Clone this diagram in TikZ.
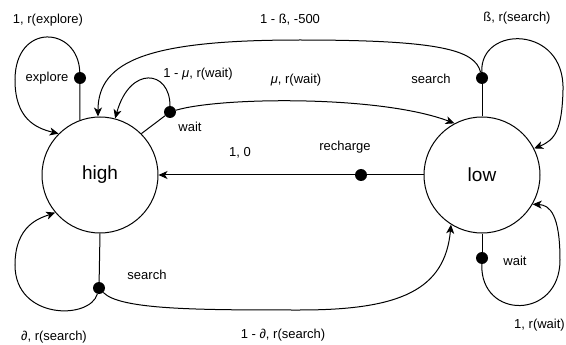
\documentclass[tikz,border=0pt]{standalone}
\usepackage{fontspec}
\setmainfont{Liberation Sans}
\usetikzlibrary{arrows.meta}
\begin{document}
\begin{tikzpicture}[x=1pt,y=-1pt,
  state/.style={circle,draw,line width=1pt,minimum size=116pt,inner sep=0pt,font=\fontsize{19}{21}\selectfont},
  dot/.style={circle,fill=black,minimum size=12pt,inner sep=0pt},
  lbl/.style={font=\fontsize{13}{15}\selectfont,inner sep=0pt},
  edge/.style={line width=1pt},
  arr/.style={line width=1pt,-{Stealth[length=9pt,width=8pt,inset=2.5pt]}}]
\useasboundingbox (0,0) rectangle (566,345);
\node[state] (high) at (100,175) {high};
\node[state] (low) at (482,175) {low};
\node[dot] (dexp) at (80,78) {};
\node[dot] (dwait) at (170,112) {};
\node[dot] (dsl) at (482,78) {};
\node[dot] (dwl) at (482,258) {};
\node[dot] (dsh) at (99,288) {};
\node[dot] (drech) at (361,175) {};
% explore
\draw[edge] (dexp) -- (high.110);
\draw[arr] (dexp) .. controls (78,26) and (15,22) .. (15,80) .. controls (15,118) and (35,128) .. (high.135);
% wait on high
\draw[edge] (high.45) -- (dwait);
\draw[arr] (dwait) .. controls (170,70) and (130,65) .. (high.75);
\draw[arr] (dwait) .. controls (220,97) and (380,95) .. (low.118);
% search on low
\draw[edge] (low.north) -- (dsl);
\draw[arr] (dsl) .. controls (475,50) and (440,40) .. (300,40) .. controls (150,40) and (98,60) .. (high.92);
\draw[arr] (dsl) .. controls (480,25) and (565,25) .. (563,90) .. controls (562,130) and (555,140) .. (low.27);
% wait on low
\draw[edge] (low.south) -- (dwl);
\draw[arr] (dwl) .. controls (480,320) and (560,320) .. (560,260) .. controls (560,215) and (550,205) .. (low.-30);
% recharge
\draw[edge] (low.west) -- (drech);
\draw[arr] (drech) -- (high.east);
% search on high
\draw[edge] (high.south) -- (dsh);
\draw[arr] (dsh) .. controls (90,320) and (15,320) .. (15,265) .. controls (15,225) and (40,218) .. (high.-140);
\draw[arr] (dsh) .. controls (120,310) and (200,310) .. (300,310) .. controls (400,310) and (445,290) .. (low.-122);
% labels
\node[lbl] (l1) at (48,20) {1, r(explore)};
\node[lbl] (l2) at (47,78) {explore};
\node[lbl] (l3) at (198,74) {1 - \textit{μ}, r(wait)};
\node[lbl] (l4) at (190,127) {wait};
\node[lbl] (l5) at (290,20) {1 - ß, -500};
\node[lbl] (l6) at (296,80) {\textit{μ}, r(wait)};
\node[lbl] (l7) at (431,79) {search};
\node[lbl] (l8) at (517,18) {ß, r(search)};
\node[lbl] (l9) at (240,153) {1, 0};
\node[lbl] (l10) at (345,147) {recharge};
\node[lbl] (l11) at (515,261) {wait};
\node[lbl,anchor=east] (l12) at (565,325) {1, r(wait)};
\node[lbl] (l13) at (147,275) {search};
\node[lbl] (l14) at (54,337) {∂, r(search)};
\node[lbl] (l15) at (283,335) {1 - ∂, r(search)};
\end{tikzpicture}
\end{document}
